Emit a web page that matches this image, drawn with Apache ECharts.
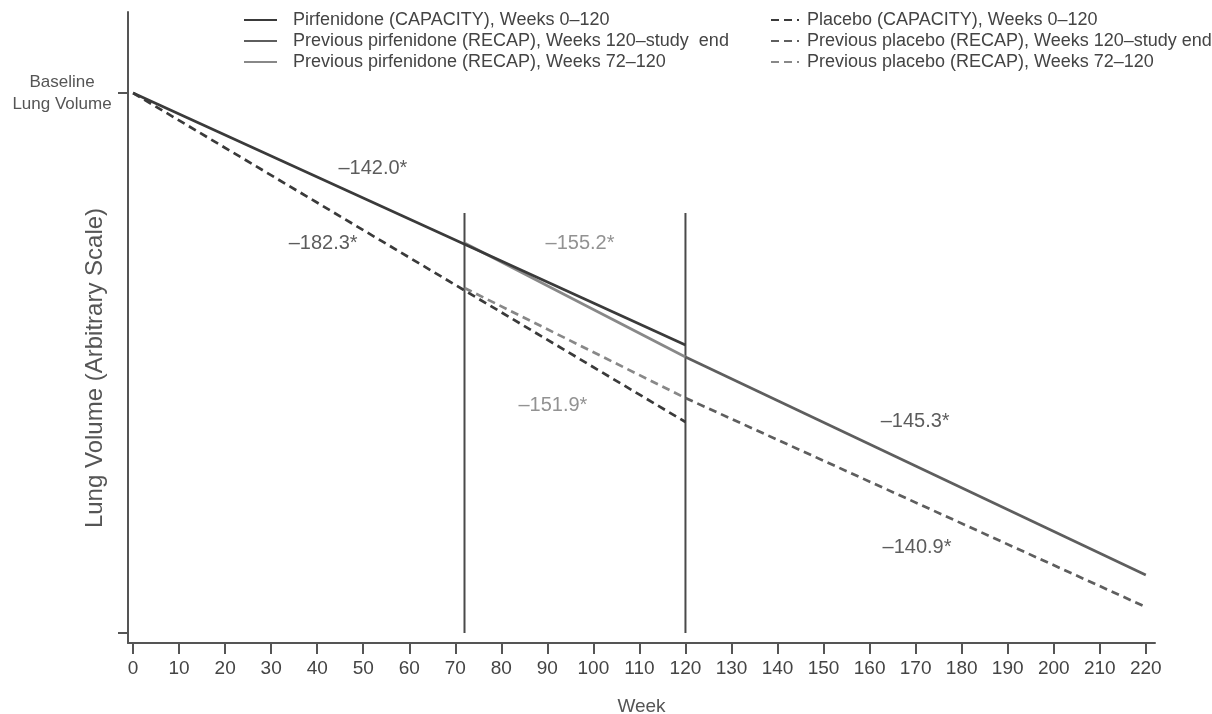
<!DOCTYPE html>
<html><head><meta charset="utf-8">
<script src="https://cdn.jsdelivr.net/npm/echarts@6/dist/echarts.min.js"></script>
<style>html,body{margin:0;padding:0;background:#fff}#c{width:1212px;height:714px}</style>
</head><body><div id="c"></div>
<script>
// ---- data (arbitrary lung-volume scale, 0 = baseline) ----
const weekTicks = [0,10,20,30,40,50,60,70,80,90,100,110,120,130,140,150,160,170,180,190,200,210,220];
const pirfCapacity    = [[0, 0], [120, -252]];
const placeboCapacity = [[0, 0], [120, -329]];
const prevPirf72      = [[72, -150], [120, -264]];
const prevPirf120     = [[120, -264], [220, -482]];
const prevPlacebo72   = [[72, -195], [120, -305]];
const prevPlacebo120  = [[120, -305], [220, -514]];
const phaseWeeks = [72, 120];
const phaseRange = [-120, -540];
const yTicks = [0, -540];
const yTickLabels = ['Baseline\nLung Volume', ''];
const annotLabels = ['\u2013142.0*', '\u2013182.3*', '\u2013155.2*', '\u2013151.9*', '\u2013145.3*', '\u2013140.9*'];
const annotWeeks  = [52.1, 41.3, 97.1, 91.2, 169.9, 170.3];
const annotValues = [-75, -150, -150, -312, -328, -454];
const annotDark   = [true, true, false, false, true, true];

const names = {
  pc: 'Pirfenidone (CAPACITY), Weeks 0\u2013120',
  p120: 'Previous pirfenidone (RECAP), Weeks 120\u2013study  end',
  p72: 'Previous pirfenidone (RECAP), Weeks 72\u2013120',
  plc: 'Placebo (CAPACITY), Weeks 0\u2013120',
  pl120: 'Previous placebo (RECAP), Weeks 120\u2013study end',
  pl72: 'Previous placebo (RECAP), Weeks 72\u2013120'
};
const DARK = '#3a3a3a', MED = '#5e5e5e', LIGHT = '#888888';
const FONT = '"Liberation Sans", Arial, sans-serif';
const dash = [8, 5];

function lineSeries(name, data, color, dashed, z) {
  return { name, type: 'line', data, symbol: 'none', silent: true, z,
    lineStyle: { color, width: 2.7, type: dashed ? dash : 'solid' },
    itemStyle: { color, opacity: 0 } };
}

const series = [];
phaseWeeks.forEach((w, i) => {
  series.push({ name: 'phase' + i, type: 'line', symbol: 'none', silent: true, z: 1,
    data: [[w, phaseRange[0]], [w, phaseRange[1]]],
    lineStyle: { color: '#4a4a4a', width: 2 } });
});
series.push(lineSeries(names.p72, prevPirf72, LIGHT, false, 2));
series.push(lineSeries(names.pl72, prevPlacebo72, LIGHT, true, 2));
series.push(lineSeries(names.p120, prevPirf120, MED, false, 3));
series.push(lineSeries(names.pl120, prevPlacebo120, MED, true, 3));
series.push(lineSeries(names.pc, pirfCapacity, DARK, false, 4));
series.push(lineSeries(names.plc, placeboCapacity, DARK, true, 4));
series.push({ name: 'annotations', type: 'scatter', symbolSize: 0, silent: true, z: 5,
  data: annotLabels.map((t, i) => ({ name: t, value: [annotWeeks[i], annotValues[i]],
    label: { color: annotDark[i] ? '#333' : '#777' } })),
  label: { show: true, position: 'inside', formatter: p => p.name, fontSize: 20, fontFamily: FONT } });

const legendBase = { orient: 'vertical', itemWidth: 33, itemHeight: 14, itemGap: 3, padding: 0,
  selectedMode: false,
  textStyle: { fontSize: 18, lineHeight: 18, color: '#444', fontFamily: FONT } };

const option = {
  animation: false,
  backgroundColor: '#fff',
  textStyle: { fontFamily: FONT },
  grid: { left: 128, right: 57, top: 12, bottom: 71, containLabel: false, outerBoundsMode: 'none' },
  legend: [
    Object.assign({}, legendBase, { left: 243, top: 11, data: [names.pc, names.p120, names.p72],
      textStyle: Object.assign({}, legendBase.textStyle, { padding: [0, 0, 0, 11] }) }),
    Object.assign({}, legendBase, { left: 770, top: 11, itemWidth: 28, data: [names.plc, names.pl120, names.pl72],
      textStyle: Object.assign({}, legendBase.textStyle, { padding: [0, 0, 0, 3] }) })
  ],
  graphic: [{
    type: 'text', x: 95, y: 368, rotation: Math.PI / 2, silent: true,
    style: { text: 'Lung Volume (Arbitrary Scale)', fontSize: 24, fontFamily: FONT, fill: '#555',
      align: 'center', verticalAlign: 'middle' }
  }],
  xAxis: {
    type: 'value', min: -1.1, max: 222,
    name: 'Week', nameLocation: 'middle', nameGap: 54,
    nameTextStyle: { fontSize: 19, color: '#555', fontFamily: FONT },
    axisLine: { show: true, onZero: false, lineStyle: { color: '#555', width: 2 } },
    axisTick: { show: true, customValues: weekTicks, length: 11, lineStyle: { color: '#555', width: 2 } },
    axisLabel: { customValues: weekTicks, fontSize: 19, color: '#444', margin: 16, fontFamily: FONT },
    splitLine: { show: false }
  },
  yAxis: {
    type: 'value', min: -550, max: 81,
    axisLine: { show: true, onZero: false, lineStyle: { color: '#555', width: 2 } },
    axisTick: { show: true, customValues: yTicks, length: 10, lineStyle: { color: '#555', width: 2 } },
    axisLabel: { customValues: yTicks, formatter: v => yTickLabels[yTicks.indexOf(v)] || '',
      align: 'center', margin: 66, fontSize: 17, lineHeight: 22, color: '#555', fontFamily: FONT },
    splitLine: { show: false }
  },
  series
};
const chart = echarts.init(document.getElementById('c'), null, { renderer: 'canvas' });
chart.setOption(option);
</script></body></html>
